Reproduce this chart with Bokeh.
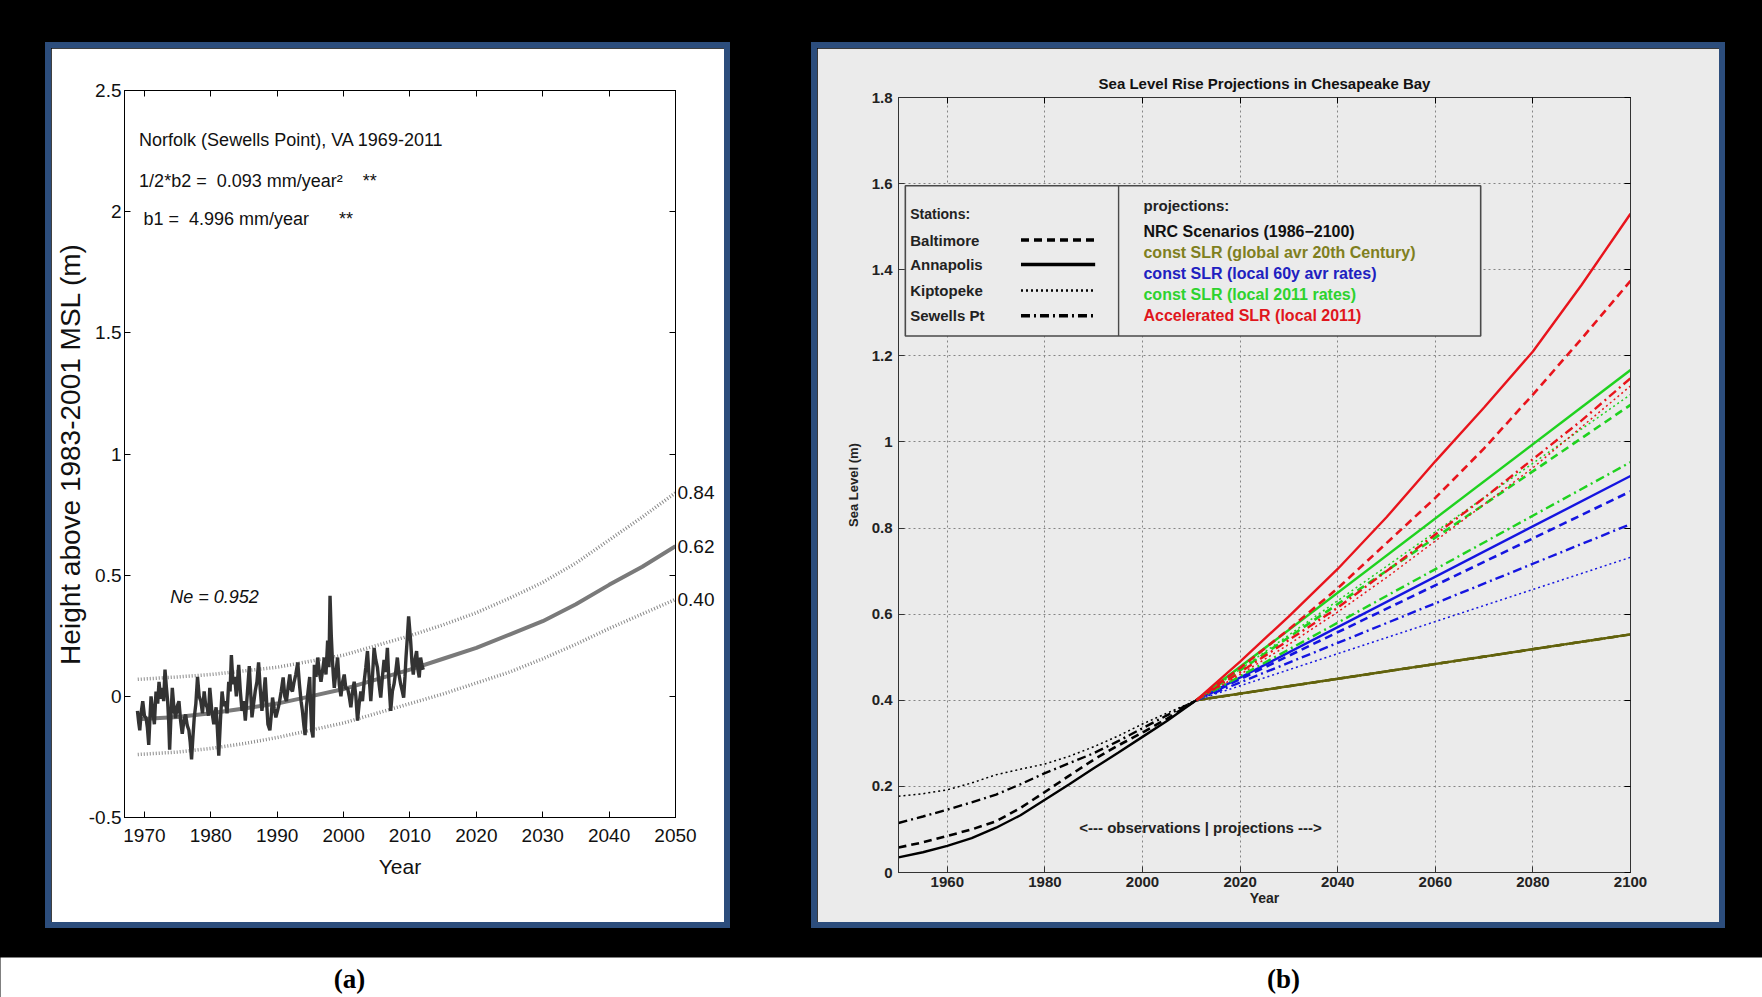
from bokeh.plotting import figure
from bokeh.models import Range1d, LinearAxis, FixedTicker, Label, Spacer, NumeralTickFormatter
from bokeh.layouts import row, column
from bokeh.embed import file_html
from bokeh.resources import INLINE

# ------------------------------------------------------------------ data (a)
obs_year = [1968.95, 1969.15, 1969.3, 1969.5, 1969.75, 1970.0, 1970.25, 1970.45, 1970.65, 1970.85,
            1971.0, 1971.25, 1971.5, 1971.75, 1972.0, 1972.2, 1972.45, 1972.7, 1972.9, 1973.1,
            1973.3, 1973.5, 1973.65, 1973.8, 1974.0, 1974.2, 1974.45, 1974.7, 1974.95, 1975.2,
            1975.45, 1975.7, 1975.95, 1976.2, 1976.45, 1976.7, 1976.9, 1977.1, 1977.3, 1977.5,
            1977.75, 1978.0, 1978.25, 1978.5, 1978.75, 1979.0, 1979.2, 1979.45, 1979.65, 1979.85,
            1980.15, 1980.45, 1980.65, 1980.8, 1981.0, 1981.2, 1981.45, 1981.7, 1981.95, 1982.2,
            1982.45, 1982.7, 1982.9, 1983.1, 1983.35, 1983.6, 1983.85, 1984.2, 1984.45, 1984.7,
            1984.95, 1985.2, 1985.5, 1985.8, 1986.0, 1986.2, 1986.45, 1986.7, 1986.95, 1987.2,
            1987.45, 1987.7, 1987.95, 1988.2, 1988.4, 1988.6, 1988.9, 1989.1, 1989.3, 1989.55,
            1989.8, 1990.05, 1990.3, 1990.6, 1990.9, 1991.15, 1991.4, 1991.65, 1991.9, 1992.1,
            1992.3, 1992.55, 1992.8, 1993.1, 1993.35, 1993.6, 1993.8, 1994.0, 1994.2, 1994.4,
            1994.65, 1994.9, 1995.05, 1995.2, 1995.4, 1995.6, 1995.85, 1996.1, 1996.35, 1996.6,
            1996.85, 1997.1, 1997.35, 1997.6, 1997.8, 1997.96, 1998.15, 1998.3, 1998.45, 1998.6,
            1998.85, 1999.1, 1999.35, 1999.6, 1999.85, 2000.1, 2000.35, 2000.6, 2000.85, 2001.1,
            2001.35, 2001.6, 2001.85, 2002.1, 2002.35, 2002.6, 2002.85, 2003.1, 2003.35, 2003.6,
            2003.85, 2004.1, 2004.35, 2004.6, 2004.85, 2005.1, 2005.35, 2005.6, 2005.85, 2006.1,
            2006.35, 2006.6, 2006.85, 2007.1, 2007.35, 2007.6, 2007.85, 2008.1, 2008.35, 2008.6,
            2008.85, 2009.05, 2009.25, 2009.4, 2009.6, 2009.8, 2009.95, 2010.1, 2010.3, 2010.5,
            2010.75, 2011.0, 2011.2, 2011.4, 2011.6, 2011.8, 2012.0]
obs_height = [-0.06, -0.11, -0.14, -0.07, -0.02, -0.08, -0.09, -0.13, -0.20, -0.08,
              0.00, -0.06, -0.115, 0.02, -0.03, 0.06, -0.01, 0.035, -0.02, 0.11,
              0.04, -0.02, -0.10, -0.22, -0.08, 0.035, -0.05, -0.09, -0.04, -0.02,
              -0.10, -0.155, -0.10, -0.075, -0.12, -0.14, -0.19, -0.26, -0.17, -0.09,
              -0.03, 0.08, 0.00, -0.02, -0.07, 0.02, -0.03, -0.045, -0.08, 0.035,
              -0.06, -0.115, -0.07, -0.045, -0.14, -0.245, -0.10, 0.02, -0.04, -0.02,
              -0.07, 0.06, 0.02, 0.17, 0.05, 0.08, 0.00, 0.13, 0.02, -0.06,
              -0.02, -0.10, 0.01, 0.125, 0.02, -0.087, -0.03, 0.023, 0.06, 0.14,
              0.03, -0.06, 0.00, 0.078, -0.02, -0.115, -0.14, -0.08, -0.005, -0.05,
              -0.087, -0.06, -0.03, 0.02, 0.078, 0.00, -0.02, 0.04, 0.09, 0.03,
              0.02, 0.06, 0.09, 0.14, 0.05, -0.02, -0.06, -0.115, -0.16, -0.045,
              0.02, 0.08, -0.05, -0.14, -0.17, 0.13, 0.08, 0.16, 0.10, 0.06,
              0.11, 0.16, 0.09, 0.23, 0.12, 0.415, 0.25, 0.16, 0.09, 0.035,
              0.10, 0.16, 0.05, 0.00, 0.06, 0.09, 0.03, 0.035, 0.00, -0.045,
              0.02, 0.06, 0.00, -0.10, -0.03, 0.02, -0.02, 0.06, 0.12, 0.187,
              0.08, -0.02, 0.08, 0.20, 0.15, 0.12, 0.05, -0.005, 0.08, 0.15,
              0.10, 0.20, 0.05, -0.06, 0.02, 0.05, 0.10, 0.16, 0.09, 0.05,
              0.02, -0.005, 0.08, 0.16, 0.24, 0.33, 0.28, 0.23, 0.14, 0.09,
              0.15, 0.187, 0.11, 0.078, 0.16, 0.13, 0.11]

fit_year = [1969, 1975, 1980, 1985, 1990, 1995, 2000, 2005, 2010, 2015, 2020, 2025, 2030, 2035, 2040, 2045, 2050]
fit_center = [-0.095, -0.085, -0.07, -0.05, -0.03, 0.0, 0.03, 0.07, 0.11, 0.155, 0.20, 0.255, 0.31, 0.38, 0.46, 0.535, 0.62]
fit_upper = [0.07, 0.08, 0.09, 0.105, 0.12, 0.145, 0.17, 0.21, 0.25, 0.295, 0.345, 0.405, 0.47, 0.55, 0.645, 0.74, 0.84]
fit_lower = [-0.24, -0.23, -0.215, -0.195, -0.17, -0.14, -0.11, -0.07, -0.03, 0.01, 0.055, 0.10, 0.155, 0.215, 0.28, 0.34, 0.40]

a_xticks = [1970, 1980, 1990, 2000, 2010, 2020, 2030, 2040, 2050]
a_yticks = [-0.5, 0, 0.5, 1, 1.5, 2, 2.5]
a_end_values = [0.40, 0.62, 0.84]

# ------------------------------------------------------------------ data (b)
hist_year = [1950, 1955, 1960, 1965, 1970, 1975, 1980, 1985, 1990, 1995, 2000, 2005, 2011]
hist_baltimore = [0.058, 0.070, 0.085, 0.100, 0.119, 0.150, 0.187, 0.225, 0.262, 0.295, 0.325, 0.357, 0.40]
hist_annapolis = [0.035, 0.047, 0.062, 0.080, 0.104, 0.133, 0.169, 0.205, 0.242, 0.278, 0.315, 0.352, 0.40]
hist_kiptopeke = [0.177, 0.183, 0.192, 0.208, 0.227, 0.240, 0.252, 0.270, 0.292, 0.317, 0.345, 0.370, 0.40]
hist_sewells = [0.115, 0.130, 0.146, 0.163, 0.181, 0.205, 0.231, 0.254, 0.277, 0.305, 0.335, 0.365, 0.40]

const_year = [2011, 2100]
global_baltimore = [0.40, 0.553]
global_annapolis = [0.40, 0.553]
global_kiptopeke = [0.40, 0.553]
global_sewells = [0.40, 0.553]

local60_baltimore = [0.40, 0.885]
local60_annapolis = [0.40, 0.921]
local60_kiptopeke = [0.40, 0.732]
local60_sewells = [0.40, 0.809]

local2011_baltimore = [0.40, 1.086]
local2011_annapolis = [0.40, 1.167]
local2011_kiptopeke = [0.40, 1.110]
local2011_sewells = [0.40, 0.953]

accel_year = [2011, 2020, 2030, 2040, 2050, 2060, 2070, 2080, 2090, 2100]
accel_baltimore = [0.40, 0.475, 0.565, 0.66, 0.765, 0.87, 0.985, 1.11, 1.24, 1.374]
accel_annapolis = [0.40, 0.49, 0.595, 0.705, 0.825, 0.955, 1.08, 1.21, 1.365, 1.53]
accel_kiptopeke = [0.40, 0.46, 0.53, 0.605, 0.685, 0.77, 0.855, 0.94, 1.035, 1.13]
accel_sewells = [0.40, 0.465, 0.54, 0.615, 0.70, 0.785, 0.87, 0.96, 1.05, 1.148]

b_xticks = [1960, 1980, 2000, 2020, 2040, 2060, 2080, 2100]
b_yticks = [0, 0.2, 0.4, 0.6, 0.8, 1.0, 1.2, 1.4, 1.6, 1.8]

stations = ["Baltimore", "Annapolis", "Kiptopeke", "Sewells Pt"]
projection_labels = ["NRC Scenarios (1986\u22122100)", "const SLR (global avr 20th Century)",
                     "const SLR (local 60y avr rates)", "const SLR (local 2011 rates)",
                     "Accelerated SLR (local 2011)"]
nrc_labels = ["NRC-III", "NRC-II", "NRC-I"]
nrc_levels = [1.742, 1.242, 0.747]

# ------------------------------------------------------------------ styles
SANS = "Liberation Sans, Arial, Helvetica, sans-serif"
SERIF = "Liberation Serif, Times New Roman, serif"
BLUE_FRAME = {"background-color": "#2c4d7c"}
PANEL_GRAY = "#ebebeb"
DASH = {"Baltimore": "8 5", "Annapolis": "solid", "Kiptopeke": "2 3", "Sewells Pt": "9 4 2 4"}
WIDTH = {"Baltimore": 2.6, "Annapolis": 2.4, "Kiptopeke": 1.5, "Sewells Pt": 2.4}
OLIVE, BLUE, GREEN, RED = "#62620c", "#1515e0", "#1fd21f", "#e8141c"

# ================================================================== figure (a)
pa = figure(width=673, height=874, x_range=Range1d(1967, 2050), y_range=Range1d(-0.5, 2.5),
            output_backend="svg", toolbar_location=None,
            min_border_left=68, min_border_right=49, min_border_top=42, min_border_bottom=105,
            background_fill_color="white", border_fill_color="white",
            x_axis_label="Year", y_axis_label="Height above 1983-2001 MSL (m)")
pa.grid.visible = False
pa.outline_line_color = "black"
pa.xaxis.ticker = FixedTicker(ticks=a_xticks)
pa.yaxis.ticker = FixedTicker(ticks=a_yticks)
pa.yaxis.formatter = NumeralTickFormatter(format="0.[0]")
for ax in (pa.xaxis[0], pa.yaxis[0]):
    ax.major_tick_in = 6
    ax.major_tick_out = 0
    ax.minor_tick_in = 0
    ax.minor_tick_out = 0
    ax.axis_line_color = "black"
    ax.major_tick_line_color = "black"
    ax.major_label_text_font = SANS
    ax.major_label_text_font_size = "19px"
    ax.major_label_text_color = "#111"
    ax.axis_label_text_font_style = "normal"
    ax.axis_label_text_color = "#111"
pa.xaxis.axis_label_text_font = SANS
pa.xaxis.axis_label_text_font_size = "21px"
pa.xaxis.major_label_standoff = 11
pa.xaxis.axis_label_standoff = 10
pa.yaxis.axis_label_text_font = SANS
pa.yaxis.axis_label_text_font_size = "28px"
pa.yaxis.major_label_standoff = 3
pa.yaxis.axis_label_standoff = 0

top_a = LinearAxis(ticker=FixedTicker(ticks=[], minor_ticks=a_xticks), axis_line_color="black",
                   minor_tick_in=6, minor_tick_out=0, major_tick_in=0, major_tick_out=0,
                   major_label_text_font_size="0px")
pa.add_layout(top_a, "above")
right_a = LinearAxis(ticker=FixedTicker(ticks=a_end_values, minor_ticks=a_yticks),
                     formatter=NumeralTickFormatter(format="0.00"), axis_line_color="black",
                     minor_tick_in=6, minor_tick_out=0, major_tick_in=0, major_tick_out=0,
                     major_label_standoff=2, major_label_text_font=SANS,
                     major_label_text_font_size="19px", major_label_text_color="#111")
pa.add_layout(right_a, "right")

pa.line(fit_year, fit_upper, line_color="#8a8a8a", line_width=3.5, line_dash="1 2")
pa.line(fit_year, fit_lower, line_color="#8a8a8a", line_width=3.5, line_dash="1 2")
pa.line(fit_year, fit_center, line_color="#7a7a7a", line_width=4)
pa.line(obs_year, obs_height, line_color="#333333", line_width=3.4)

NB = "\u00a0"
for txt, x, y, style in [
        ("Norfolk (Sewells Point), VA 1969-2011", 1969.2, 2.297, "normal"),
        ("1/2*b2 =" + NB + " 0.093 mm/year\u00b2" + NB * 3 + " **", 1969.2, 2.128, "normal"),
        ("b1 =" + NB + " 4.996 mm/year" + NB * 5 + " **", 1969.85, 1.971, "normal"),
        ("Ne = 0.952", 1973.9, 0.408, "italic")]:
    pa.add_layout(Label(x=x, y=y, text=txt, text_font=SANS, text_font_size="18px",
                        text_font_style=style, text_baseline="middle", text_align="left",
                        text_color="#111"))

# ================================================================== figure (b)
pb = figure(width=902, height=874, x_range=Range1d(1950, 2100), y_range=Range1d(0, 1.8),
            output_backend="svg", toolbar_location=None,
            min_border_left=81, min_border_right=89, min_border_top=49, min_border_bottom=50,
            background_fill_color=PANEL_GRAY, border_fill_color=PANEL_GRAY,
            x_axis_label="Year", y_axis_label="Sea Level (m)",
            title="Sea Level Rise Projections in Chesapeake Bay")
pb.title.align = "center"
pb.title.text_font = SANS
pb.title.text_font_size = "15px"
pb.title.text_font_style = "bold"
pb.title.text_color = "#111"
pb.title.standoff = 11
pb.outline_line_color = "#333"
pb.xaxis.ticker = FixedTicker(ticks=b_xticks)
pb.yaxis.ticker = FixedTicker(ticks=b_yticks)
pb.yaxis.formatter = NumeralTickFormatter(format="0.[0]")
for ax in (pb.xaxis[0], pb.yaxis[0]):
    ax.major_tick_in = 6
    ax.major_tick_out = 0
    ax.minor_tick_in = 0
    ax.minor_tick_out = 0
    ax.axis_line_color = "#333"
    ax.major_tick_line_color = "#333"
    ax.major_label_text_font = SANS
    ax.major_label_text_font_size = "15px"
    ax.major_label_text_font_style = "bold"
    ax.major_label_text_color = "#222"
    ax.axis_label_text_font = SANS
    ax.axis_label_text_font_style = "bold"
    ax.axis_label_text_color = "#222"
pb.xaxis.axis_label_text_font_size = "14px"
pb.yaxis.axis_label_text_font_size = "13px"
pb.xaxis.major_label_standoff = 4
pb.xaxis.axis_label_standoff = 0
pb.yaxis.major_label_standoff = 6
pb.yaxis.axis_label_standoff = 8
pb.xgrid.ticker = FixedTicker(ticks=b_xticks)
pb.ygrid.ticker = FixedTicker(ticks=b_yticks)
for g in (pb.xgrid[0], pb.ygrid[0]):
    g.grid_line_color = "#858585"
    g.grid_line_dash = "2 3"
    g.grid_line_width = 1

top_b = LinearAxis(ticker=FixedTicker(ticks=[], minor_ticks=b_xticks), axis_line_color="#333",
                   minor_tick_in=6, minor_tick_out=0, major_tick_in=0, major_tick_out=0,
                   major_label_text_font_size="0px")
pb.add_layout(top_b, "above")
right_b = LinearAxis(ticker=FixedTicker(ticks=[], minor_ticks=b_yticks), axis_line_color="#333",
                     minor_tick_in=6, minor_tick_out=0, major_tick_in=0, major_tick_out=0,
                     major_label_text_font_size="0px")
pb.add_layout(right_b, "right")

series = [
    (OLIVE, const_year, {"Baltimore": global_baltimore, "Annapolis": global_annapolis,
                         "Kiptopeke": global_kiptopeke, "Sewells Pt": global_sewells}),
    (BLUE, const_year, {"Baltimore": local60_baltimore, "Annapolis": local60_annapolis,
                        "Kiptopeke": local60_kiptopeke, "Sewells Pt": local60_sewells}),
    (GREEN, const_year, {"Baltimore": local2011_baltimore, "Annapolis": local2011_annapolis,
                         "Kiptopeke": local2011_kiptopeke, "Sewells Pt": local2011_sewells}),
    (RED, accel_year, {"Baltimore": accel_baltimore, "Annapolis": accel_annapolis,
                       "Kiptopeke": accel_kiptopeke, "Sewells Pt": accel_sewells}),
    ("black", hist_year, {"Baltimore": hist_baltimore, "Annapolis": hist_annapolis,
                          "Kiptopeke": hist_kiptopeke, "Sewells Pt": hist_sewells}),
]
for color, xs, d in series:
    for st in ["Kiptopeke", "Sewells Pt", "Baltimore", "Annapolis"]:
        pb.line(xs, d[st], line_color=color, line_width=WIDTH[st], line_dash=DASH[st])

# ---- legend box (decoration, placed in data space)
LEG_L, LEG_R, LEG_B, LEG_T, LEG_DIV = 1951.4, 2069.3, 1.246, 1.595, 1995.1
pb.quad(left=[LEG_L], right=[LEG_R], bottom=[LEG_B], top=[LEG_T],
        fill_color=PANEL_GRAY, line_color="#4a4a4a", line_width=1.6)
pb.segment(x0=[LEG_DIV], x1=[LEG_DIV], y0=[LEG_B], y1=[LEG_T], line_color="#4a4a4a", line_width=1.4)
pb.add_layout(Label(x=1952.4, y=1.529, text="Stations:", text_font=SANS, text_font_size="14px",
                    text_font_style="bold", text_baseline="middle", text_color="#222"))
row_y = [1.469, 1.412, 1.352, 1.293]
for st, yy in zip(stations, row_y):
    pb.add_layout(Label(x=1952.4, y=yy, text=st, text_font=SANS, text_font_size="15px",
                        text_font_style="bold", text_baseline="middle", text_color="#222"))
    pb.segment(x0=[1975.1], x1=[1990.3], y0=[yy], y1=[yy], line_color="black",
               line_width=WIDTH[st] + 1.0, line_dash=DASH[st])
pb.add_layout(Label(x=2000.2, y=1.550, text="projections:", text_font=SANS, text_font_size="15px",
                    text_font_style="bold", text_baseline="middle", text_color="#222"))
proj_colors = ["#111111", "#7f7f20", "#2020c0", "#2ed22e", "#e0161c"]
proj_y = [1.489, 1.440, 1.391, 1.343, 1.293]
for txt, c, yy in zip(projection_labels, proj_colors, proj_y):
    pb.add_layout(Label(x=2000.2, y=yy, text=txt, text_font=SANS, text_font_size="16px",
                        text_font_style="bold", text_baseline="middle", text_color=c))

for txt, yy in zip(nrc_labels, nrc_levels):
    pb.add_layout(Label(x=2100, y=yy, x_offset=8, text=txt, text_font=SANS, text_font_size="15px",
                        text_font_style="bold", text_baseline="middle", text_color="#111"))
pb.add_layout(Label(x=2011.9, y=0.104, text="<--- observations | projections --->", text_font=SANS,
                    text_font_size="15px", text_font_style="bold", text_align="center",
                    text_baseline="middle", text_color="#222"))

# ================================================================== captions
cap = figure(width=1762, height=40, x_range=Range1d(0, 1762), y_range=Range1d(0, 40),
             output_backend="svg", toolbar_location=None, x_axis_type=None, y_axis_type=None,
             min_border=0, background_fill_color="white", border_fill_color="white")
cap.outline_line_color = None
cap.grid.visible = False
for txt, x in [("(a)", 349), ("(b)", 1283)]:
    cap.add_layout(Label(x=x, y=19, text=txt, text_font=SERIF, text_font_size="27px",
                         text_font_style="bold", text_align="center", text_baseline="middle",
                         text_color="black"))


def framed(fig, w, h):
    return column(
        Spacer(width=w + 12, height=6, styles=BLUE_FRAME),
        row(Spacer(width=6, height=h, styles=BLUE_FRAME), fig, Spacer(width=6, height=h, styles=BLUE_FRAME)),
        Spacer(width=w + 12, height=6, styles=BLUE_FRAME),
    )


root = column(
    Spacer(width=1762, height=42),
    row(Spacer(width=45, height=886), framed(pa, 673, 874), Spacer(width=81, height=886),
        framed(pb, 902, 874), Spacer(width=37, height=886)),
    Spacer(width=1762, height=29),
    cap,
    styles={"background-color": "black"},
)

with open("out.html", "w") as f:
    f.write(file_html(root, INLINE))
